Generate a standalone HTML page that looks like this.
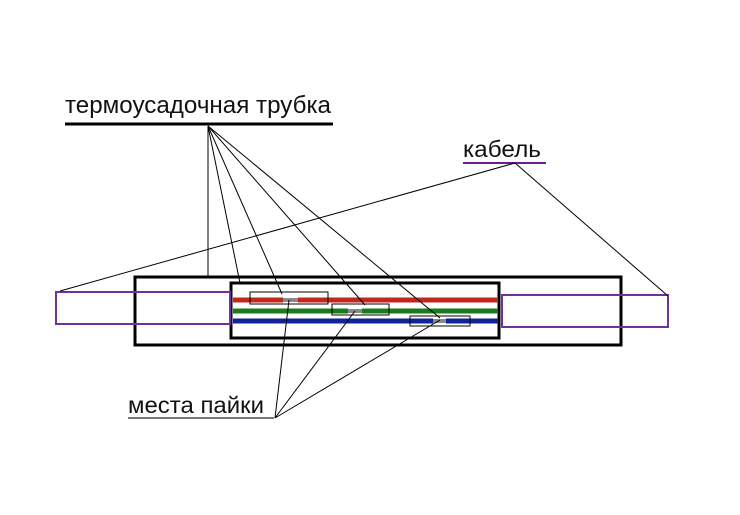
<!DOCTYPE html>
<html><head><meta charset="utf-8"><style>
body{margin:0;background:#fff;width:740px;height:515px;overflow:hidden}
svg{display:block}
text{font-family:"Liberation Sans",sans-serif;fill:#111}
</style></head><body>
<svg width="740" height="515" viewBox="0 0 740 515">
<text x="65" y="113" font-size="24" textLength="266" lengthAdjust="spacingAndGlyphs">термоусадочная трубка</text>
<line x1="65" y1="124" x2="333" y2="124" stroke="#000" stroke-width="3"/>
<text x="463" y="157" font-size="23" textLength="78" lengthAdjust="spacingAndGlyphs">кабель</text>
<line x1="463" y1="163" x2="546" y2="163" stroke="#6a1e8a" stroke-width="2"/>
<text x="128" y="413" font-size="23" textLength="136" lengthAdjust="spacingAndGlyphs">места пайки</text>
<line x1="128" y1="418" x2="274" y2="418" stroke="#777" stroke-width="2"/>
<rect x="135" y="277" width="486" height="68" fill="none" stroke="#000" stroke-width="3"/>
<rect x="231" y="283" width="268" height="55" fill="none" stroke="#000" stroke-width="3"/>
<line x1="233" y1="300" x2="283" y2="300" stroke="#c0281e" stroke-width="5"/>
<line x1="298" y1="300" x2="498" y2="300" stroke="#c0281e" stroke-width="5"/>
<line x1="283" y1="300" x2="298" y2="300" stroke="#888" stroke-width="4"/>
<line x1="233" y1="311" x2="348" y2="311" stroke="#1a7a1e" stroke-width="5"/>
<line x1="362" y1="311" x2="498" y2="311" stroke="#1a7a1e" stroke-width="5"/>
<line x1="348" y1="311" x2="362" y2="311" stroke="#888" stroke-width="4"/>
<line x1="233" y1="321" x2="433" y2="321" stroke="#12239a" stroke-width="5"/>
<line x1="446" y1="321" x2="498" y2="321" stroke="#12239a" stroke-width="5"/>
<line x1="433" y1="321" x2="446" y2="321" stroke="#888" stroke-width="4"/>
<rect x="250" y="292" width="78" height="12" fill="none" stroke="#000" stroke-width="1"/>
<rect x="332" y="304" width="57" height="11" fill="none" stroke="#000" stroke-width="1"/>
<rect x="410" y="316" width="60" height="10" fill="none" stroke="#000" stroke-width="1"/>
<rect x="56" y="292" width="174" height="32" fill="none" stroke="#7030a0" stroke-width="2"/>
<rect x="502" y="295" width="166" height="32" fill="none" stroke="#7030a0" stroke-width="2"/>
<g stroke="#000" stroke-width="1">
<line x1="208" y1="126" x2="208" y2="277"/>
<line x1="208" y1="126" x2="240" y2="283"/>
<line x1="208" y1="126" x2="282" y2="294"/>
<line x1="208" y1="126" x2="365" y2="305"/>
<line x1="208" y1="126" x2="440" y2="318"/>
<line x1="515" y1="163" x2="60" y2="291"/>
<line x1="515" y1="163" x2="668" y2="296"/>
<line x1="275" y1="418" x2="289" y2="300"/>
<line x1="275" y1="418" x2="355" y2="311"/>
<line x1="275" y1="418" x2="440" y2="320"/>
</g>
</svg>
</body></html>
